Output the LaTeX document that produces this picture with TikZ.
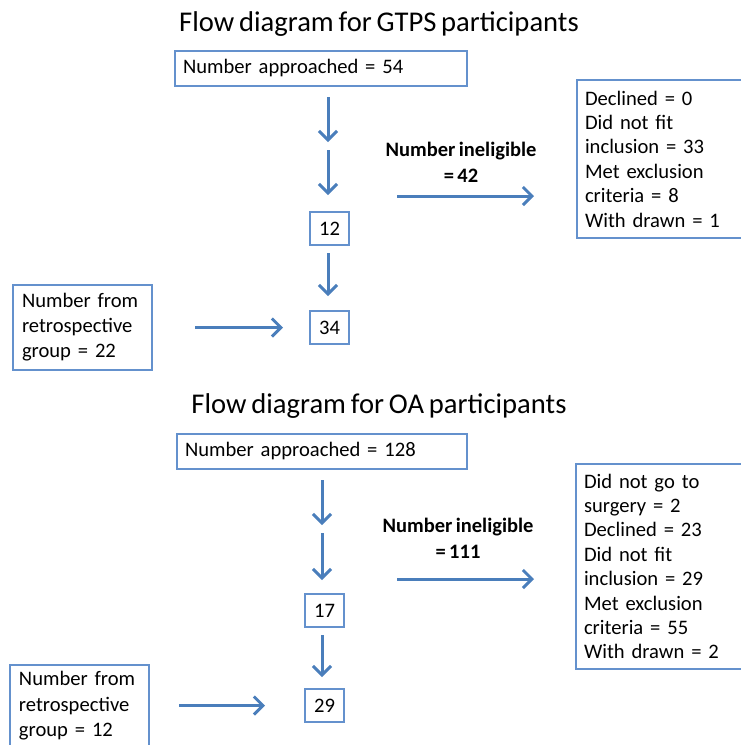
\documentclass[tikz,border=0pt]{standalone}
\usepackage{fontspec}
\setmainfont{Carlito}[WordSpace=0.75]
\usetikzlibrary{arrows.meta}
\definecolor{boxblue}{RGB}{100,145,205}
\definecolor{arrblue}{RGB}{74,126,187}
\tikzset{
  box/.style={draw=boxblue, line width=2pt, inner sep=0pt, font=\fontsize{20.6}{24.4}\selectfont},
  txtbox/.style={box, align=left, inner xsep=8pt, anchor=north west},
  numbox/.style={box, anchor=north west, minimum width=39pt, minimum height=33pt},
  arr/.style={draw=arrblue, line width=3pt, -{Straight Barb[length=9pt,width=18pt]}},
  ttl/.style={font=\fontsize{28.6}{34}\selectfont, anchor=base},
  lab/.style={font=\bfseries\fontsize{20.5}{26}\selectfont, align=center}
}
\begin{document}
\begin{tikzpicture}[x=1pt,y=-1pt]
\useasboundingbox (0,0) rectangle (741,745);
\clip (0,0) rectangle (741,745);

% ---------- GTPS ----------
\node[ttl] (gt) at (379,31) {Flow diagram for GTPS participants};
\node[txtbox, text width=276pt, minimum height=35pt] (gapp) at (174,50) {Number approached = 54};
\node[txtbox, text width=200pt, minimum height=158pt] (gexc) at (576,79)
  {Declined = 0\\Did not fit\\inclusion = 33\\Met exclusion\\criteria = 8\\With drawn = 1};
\node[numbox] (g12) at (309,211) {12};
\node[numbox] (g34) at (309,310) {34};
\node[txtbox, inner xsep=9pt, text width=121pt, minimum height=85pt, font=\fontsize{20.6}{25}\selectfont] (gret) at (12,284)
  {Number from\\retrospective\\group = 22};
\node[lab] (glab) at (461,162) {Number ineligible\\= 42};
\coordinate (gmid) at (328,146);
\coordinate (gsrc) at (397,196);

\draw[arr, shorten <=10pt, shorten >=4pt] (gmid |- gapp.south) -- (gmid);
\draw[arr, shorten <=4pt, shorten >=16pt] (gmid) -- (gmid |- g12.north);
\draw[arr, shorten <=7pt, shorten >=14pt] (gmid |- g12.south) -- (gmid |- g34.north);
\draw[arr, shorten <=42pt, shorten >=26pt] (g34.west -| gret.east) -- (g34.west);
\draw[arr, shorten >=42pt] (gsrc) -- (gsrc -| gexc.west);

% ---------- OA ----------
\node[ttl] (ot) at (379,413) {Flow diagram for OA participants};
\node[txtbox, text width=274pt, minimum height=35pt] (oapp) at (176,433) {Number approached = 128};
\node[txtbox, text width=200pt, minimum height=205pt] (oexc) at (575,463)
  {Did not go to\\surgery = 2\\Declined = 23\\Did not fit\\inclusion = 29\\Met exclusion\\criteria = 55\\With drawn = 2};
\node[numbox] (o17) at (304,593) {17};
\node[numbox] (o29) at (304,688) {29};
\node[txtbox, inner xsep=9pt, text width=121pt, minimum height=82pt, font=\fontsize{20.6}{25.5}\selectfont] (oret) at (9,664)
  {Number from\\retrospective\\group = 12};
\node[lab] (olab) at (458,538.5) {Number ineligible\\= 111};
\coordinate (omid) at (322,529);
\coordinate (osrc) at (397,579);

\draw[arr, shorten <=10pt, shorten >=4pt] (omid |- oapp.south) -- (omid);
\draw[arr, shorten <=4pt, shorten >=13pt] (omid) -- (omid |- o17.north);
\draw[arr, shorten <=7pt, shorten >=11pt] (omid |- o17.south) -- (omid |- o29.north);
\draw[arr, shorten <=29pt, shorten >=39pt] (o29.west -| oret.east) -- (o29.west);
\draw[arr, shorten >=41pt] (osrc) -- (osrc -| oexc.west);
\end{tikzpicture}
\end{document}
